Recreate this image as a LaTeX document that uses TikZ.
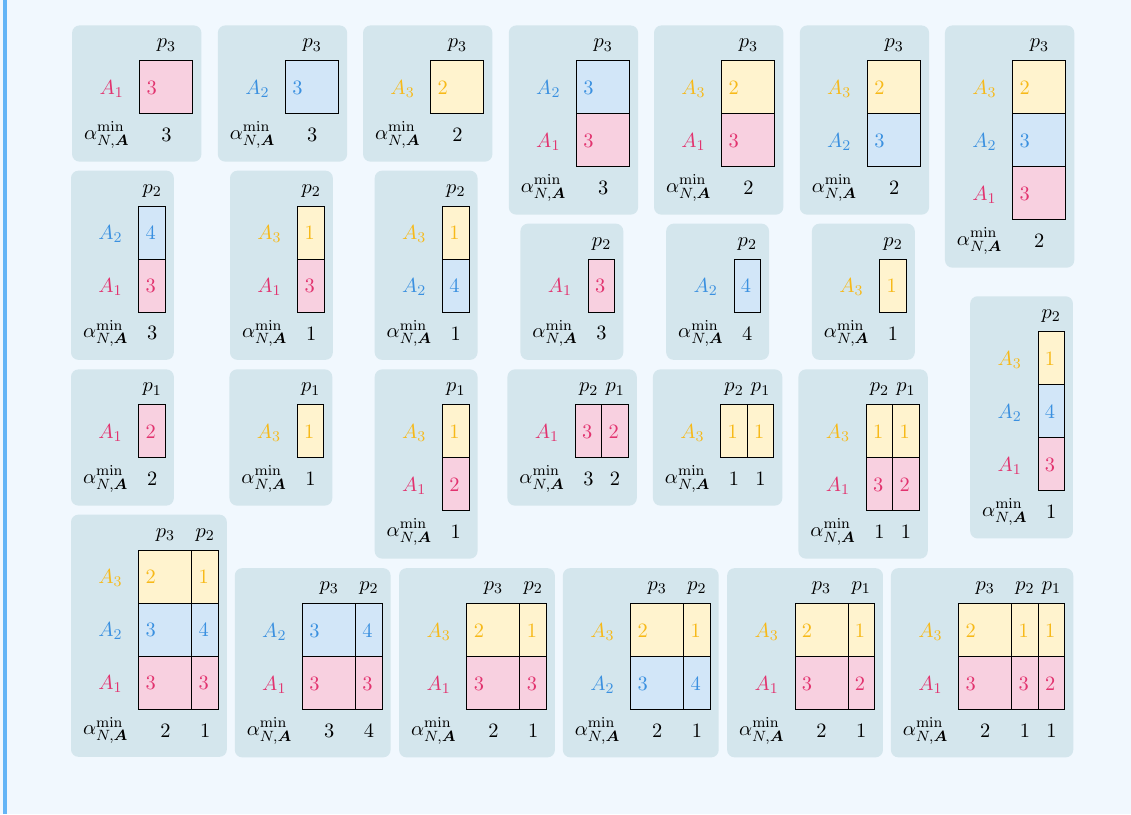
\documentclass[tikz,border=0pt,11pt]{standalone}
\usepackage{amsmath}
\definecolor{pagebg}{HTML}{F1F8FE}
\definecolor{barblue}{HTML}{64B5F6}
\definecolor{panelfill}{HTML}{D4E6ED}
\definecolor{afill1}{HTML}{F8D0E0}
\definecolor{afill2}{HTML}{D2E6F8}
\definecolor{afill3}{HTML}{FFF3CE}
\definecolor{atext1}{HTML}{E2336F}
\definecolor{atext2}{HTML}{3A90E0}
\definecolor{atext3}{HTML}{F7B918}
\tikzset{
  panel/.style={fill=panelfill,rounded corners=4pt},
  cellbox/.style={draw=black,line width=.5pt},
  num/.style={anchor=base,inner sep=0pt},
  lab/.style={anchor=base east,inner sep=0pt},
  hd/.style={inner sep=0pt}
}
% panel background and alpha label: width, rows
\newcommand{\pbg}[2]{\def\nrows{#2}%
  \fill[panel] (-1.28,.67) rectangle (#1+.16,-#2-.9);
  \node[anchor=east,inner sep=0pt] at (-.19,-#2-.4) {$\alpha^{\min}_{N,\boldsymbol{A}}$};}
% column: x0, width, index, alpha value
\newcommand{\pcol}[4]{\node[hd] at (#1+#2/2,.29) {$p_{#3}$};
  \node[hd] at (#1+#2/2,-\nrows-.4) {#4};}
% row label: row, agent
\newcommand{\arow}[2]{\node[lab,text=atext#2] at (-.3,-#1+.37) {$A_{#2}$};}
% cell: x0, width, row, agent, value
\newcommand{\acell}[5]{\draw[cellbox,fill=afill#4] (#1,-#3+1) rectangle (#1+#2,-#3);
  \node[num,text=atext#4] at (#1+.225,-#3+.37) {#5};}
\begin{document}
\begin{tikzpicture}
\fill[pagebg] (0,0) rectangle (21.34,-15.36);
\fill[barblue] (.05,0) rectangle (.14,-15.36);
% one column p3
\begin{scope}[shift={(2.64,-1.15)}]
\pbg{1}{1} \pcol{0}{1}{3}{3} \arow{1}{1} \acell{0}{1}{1}{1}{3}
\end{scope}
\begin{scope}[shift={(5.39,-1.15)}]
\pbg{1}{1} \pcol{0}{1}{3}{3} \arow{1}{2} \acell{0}{1}{1}{2}{3}
\end{scope}
\begin{scope}[shift={(8.13,-1.15)}]
\pbg{1}{1} \pcol{0}{1}{3}{2} \arow{1}{3} \acell{0}{1}{1}{3}{2}
\end{scope}
\begin{scope}[shift={(10.88,-1.15)}]
\pbg{1}{2} \pcol{0}{1}{3}{3} \arow{1}{2} \arow{2}{1}
\acell{0}{1}{1}{2}{3} \acell{0}{1}{2}{1}{3}
\end{scope}
\begin{scope}[shift={(13.62,-1.15)}]
\pbg{1}{2} \pcol{0}{1}{3}{2} \arow{1}{3} \arow{2}{1}
\acell{0}{1}{1}{3}{2} \acell{0}{1}{2}{1}{3}
\end{scope}
\begin{scope}[shift={(16.37,-1.15)}]
\pbg{1}{2} \pcol{0}{1}{3}{2} \arow{1}{3} \arow{2}{2}
\acell{0}{1}{1}{3}{2} \acell{0}{1}{2}{2}{3}
\end{scope}
\begin{scope}[shift={(19.11,-1.15)}]
\pbg{1}{3} \pcol{0}{1}{3}{2} \arow{1}{3} \arow{2}{2} \arow{3}{1}
\acell{0}{1}{1}{3}{2} \acell{0}{1}{2}{2}{3} \acell{0}{1}{3}{1}{3}
\end{scope}
% one column p2
\begin{scope}[shift={(2.62,-3.89)}]
\pbg{.5}{2} \pcol{0}{.5}{2}{3} \arow{1}{2} \arow{2}{1}
\acell{0}{.5}{1}{2}{4} \acell{0}{.5}{2}{1}{3}
\end{scope}
\begin{scope}[shift={(5.62,-3.89)}]
\pbg{.5}{2} \pcol{0}{.5}{2}{1} \arow{1}{3} \arow{2}{1}
\acell{0}{.5}{1}{3}{1} \acell{0}{.5}{2}{1}{3}
\end{scope}
\begin{scope}[shift={(8.35,-3.89)}]
\pbg{.5}{2} \pcol{0}{.5}{2}{1} \arow{1}{3} \arow{2}{2}
\acell{0}{.5}{1}{3}{1} \acell{0}{.5}{2}{2}{4}
\end{scope}
\begin{scope}[shift={(11.10,-4.89)}]
\pbg{.5}{1} \pcol{0}{.5}{2}{3} \arow{1}{1} \acell{0}{.5}{1}{1}{3}
\end{scope}
\begin{scope}[shift={(13.85,-4.89)}]
\pbg{.5}{1} \pcol{0}{.5}{2}{4} \arow{1}{2} \acell{0}{.5}{1}{2}{4}
\end{scope}
\begin{scope}[shift={(16.60,-4.89)}]
\pbg{.5}{1} \pcol{0}{.5}{2}{1} \arow{1}{3} \acell{0}{.5}{1}{3}{1}
\end{scope}
\begin{scope}[shift={(19.585,-6.26)}]
\pbg{.5}{3} \pcol{0}{.5}{2}{1} \arow{1}{3} \arow{2}{2} \arow{3}{1}
\acell{0}{.5}{1}{3}{1} \acell{0}{.5}{2}{2}{4} \acell{0}{.5}{3}{1}{3}
\end{scope}
% p1 and p2 p1
\begin{scope}[shift={(2.62,-7.64)}]
\pbg{.5}{1} \pcol{0}{.5}{1}{2} \arow{1}{1} \acell{0}{.5}{1}{1}{2}
\end{scope}
\begin{scope}[shift={(5.61,-7.64)}]
\pbg{.5}{1} \pcol{0}{.5}{1}{1} \arow{1}{3} \acell{0}{.5}{1}{3}{1}
\end{scope}
\begin{scope}[shift={(8.35,-7.64)}]
\pbg{.5}{2} \pcol{0}{.5}{1}{1} \arow{1}{3} \arow{2}{1}
\acell{0}{.5}{1}{3}{1} \acell{0}{.5}{2}{1}{2}
\end{scope}
\begin{scope}[shift={(10.855,-7.64)}]
\pbg{1}{1} \pcol{0}{.5}{2}{3} \pcol{.5}{.5}{1}{2} \arow{1}{1}
\acell{0}{.5}{1}{1}{3} \acell{.5}{.5}{1}{1}{2}
\end{scope}
\begin{scope}[shift={(13.60,-7.64)}]
\pbg{1}{1} \pcol{0}{.5}{2}{1} \pcol{.5}{.5}{1}{1} \arow{1}{3}
\acell{0}{.5}{1}{3}{1} \acell{.5}{.5}{1}{3}{1}
\end{scope}
\begin{scope}[shift={(16.345,-7.64)}]
\pbg{1}{2} \pcol{0}{.5}{2}{1} \pcol{.5}{.5}{1}{1} \arow{1}{3} \arow{2}{1}
\acell{0}{.5}{1}{3}{1} \acell{.5}{.5}{1}{3}{1}
\acell{0}{.5}{2}{1}{3} \acell{.5}{.5}{2}{1}{2}
\end{scope}
% p3 with p2 or p1
\begin{scope}[shift={(2.62,-10.38)}]
\pbg{1.5}{3} \pcol{0}{1}{3}{2} \pcol{1}{.5}{2}{1} \arow{1}{3} \arow{2}{2} \arow{3}{1}
\acell{0}{1}{1}{3}{2} \acell{1}{.5}{1}{3}{1}
\acell{0}{1}{2}{2}{3} \acell{1}{.5}{2}{2}{4}
\acell{0}{1}{3}{1}{3} \acell{1}{.5}{3}{1}{3}
\end{scope}
\begin{scope}[shift={(5.71,-11.39)}]
\pbg{1.5}{2} \pcol{0}{1}{3}{3} \pcol{1}{.5}{2}{4} \arow{1}{2} \arow{2}{1}
\acell{0}{1}{1}{2}{3} \acell{1}{.5}{1}{2}{4}
\acell{0}{1}{2}{1}{3} \acell{1}{.5}{2}{1}{3}
\end{scope}
\begin{scope}[shift={(8.81,-11.39)}]
\pbg{1.5}{2} \pcol{0}{1}{3}{2} \pcol{1}{.5}{2}{1} \arow{1}{3} \arow{2}{1}
\acell{0}{1}{1}{3}{2} \acell{1}{.5}{1}{3}{1}
\acell{0}{1}{2}{1}{3} \acell{1}{.5}{2}{1}{3}
\end{scope}
\begin{scope}[shift={(11.90,-11.39)}]
\pbg{1.5}{2} \pcol{0}{1}{3}{2} \pcol{1}{.5}{2}{1} \arow{1}{3} \arow{2}{2}
\acell{0}{1}{1}{3}{2} \acell{1}{.5}{1}{3}{1}
\acell{0}{1}{2}{2}{3} \acell{1}{.5}{2}{2}{4}
\end{scope}
\begin{scope}[shift={(15.00,-11.39)}]
\pbg{1.5}{2} \pcol{0}{1}{3}{2} \pcol{1}{.5}{1}{1} \arow{1}{3} \arow{2}{1}
\acell{0}{1}{1}{3}{2} \acell{1}{.5}{1}{3}{1}
\acell{0}{1}{2}{1}{3} \acell{1}{.5}{2}{1}{2}
\end{scope}
\begin{scope}[shift={(18.09,-11.39)}]
\pbg{2}{2} \pcol{0}{1}{3}{2} \pcol{1}{.5}{2}{1} \pcol{1.5}{.5}{1}{1} \arow{1}{3} \arow{2}{1}
\acell{0}{1}{1}{3}{2} \acell{1}{.5}{1}{3}{1} \acell{1.5}{.5}{1}{3}{1}
\acell{0}{1}{2}{1}{3} \acell{1}{.5}{2}{1}{3} \acell{1.5}{.5}{2}{1}{2}
\end{scope}
\end{tikzpicture}
\end{document}
